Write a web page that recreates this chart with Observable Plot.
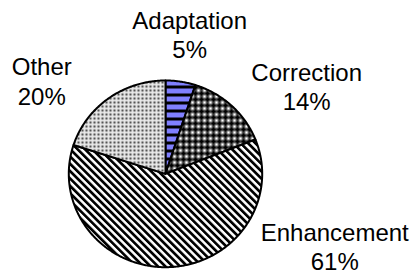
<!DOCTYPE html>
<html><head><meta charset="utf-8">
<script src="https://cdn.jsdelivr.net/npm/d3@7"></script>
<script src="https://cdn.jsdelivr.net/npm/@observablehq/plot@0.6"></script>
<style>
body{margin:0;background:#fff}
#chart svg{display:block}
</style>
</head><body>
<svg width="0" height="0" style="position:absolute">
<defs>
  <pattern id="pAdapt" patternUnits="userSpaceOnUse" width="8" height="8">
    <rect width="8" height="8" fill="#000"/>
    <rect width="8" height="5" fill="#8080ff"/>
  </pattern>
  <pattern id="pCorr" patternUnits="userSpaceOnUse" width="6" height="6">
    <rect width="6" height="6" fill="#7a7a7a"/>
    <rect x="2" y="0.5" width="2" height="5" fill="#000"/>
    <rect x="0.5" y="2" width="5" height="2" fill="#000"/>
    <rect x="0" y="0" width="1" height="1" fill="#fff"/>
    <rect x="5" y="5" width="1" height="1" fill="#fff"/>
    <rect x="5" y="0" width="1" height="1" fill="#fff"/>
    <rect x="0" y="5" width="1" height="1" fill="#fff"/>
  </pattern>
  <pattern id="pEnh" patternUnits="userSpaceOnUse" width="5.2" height="5.2" patternTransform="rotate(-45)">
    <rect width="5.2" height="5.2" fill="#fff"/>
    <rect width="2.7" height="5.2" fill="#000"/>
  </pattern>
  <pattern id="pOther" patternUnits="userSpaceOnUse" width="4" height="4">
    <rect width="4" height="4" fill="#f4f4f4"/>
    <rect x="0.5" y="0.5" width="3" height="3" fill="#c8c8c8"/>
    <rect x="1" y="1" width="2" height="2" fill="#555"/>
  </pattern>
</defs>
</svg>
<div id="chart"></div>
<script>
const categories = ["Adaptation", "Correction", "Enhancement", "Other"];
const shares = [5, 14, 61, 20];
const percentLabels = ["5%", "14%", "61%", "20%"];
const labelX = [0.25, 1.46, 1.75, -1.28];
const labelY = [1.50, 0.94, -0.775, 1.00];
const patterns = ["url(#pAdapt)", "url(#pCorr)", "url(#pEnh)", "url(#pOther)"];

const arcs = d3.pie().sort(null).value(d => d)(shares);
const slices = arcs.map(s => {
  const pts = [{x: 0, y: 0}];
  const span = s.endAngle - s.startAngle;
  const n = Math.max(4, Math.ceil(span / 0.01));
  for (let k = 0; k <= n; k++) {
    const a = s.startAngle + span * k / n;
    pts.push({x: Math.sin(a), y: Math.cos(a)});
  }
  pts.push({x: 0, y: 0});
  return pts;
});

const labels = categories.map((c, i) => ({
  x: labelX[i], y: labelY[i], text: c + "\n" + percentLabels[i]
}));

const chart = Plot.plot({
  width: 417,
  height: 275,
  margin: 0,
  style: {fontFamily: "'Liberation Sans', Arial, sans-serif", background: "#fff"},
  x: {domain: [-1, 1], range: [68.3, 261.7], axis: null},
  y: {domain: [-1, 1], range: [266.7, 80], axis: null},
  marks: [
    ...slices.map((pts, i) => Plot.line(pts, {
      x: "x", y: "y", fill: patterns[i], stroke: "#000",
      strokeWidth: 2, strokeLinejoin: "round", curve: "linear"
    })),
    Plot.text(labels, {
      x: "x", y: "y", text: "text", fontSize: 24, lineHeight: 1.22,
      fill: "#000", textAnchor: "middle"
    })
  ]
});
document.getElementById("chart").appendChild(chart);
</script>
</body></html>
